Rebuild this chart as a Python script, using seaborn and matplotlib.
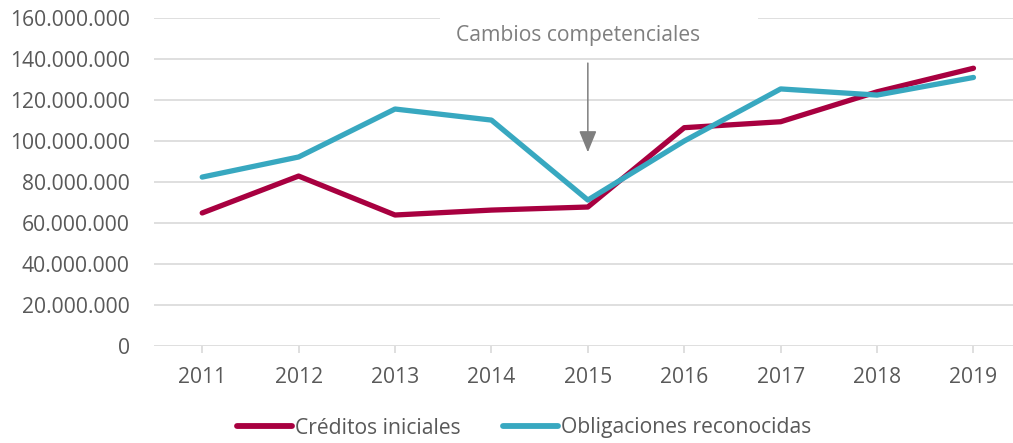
import matplotlib
matplotlib.use("Agg")
import matplotlib.pyplot as plt
import matplotlib.ticker as mticker
from matplotlib.lines import Line2D
from matplotlib.patches import Rectangle
import seaborn as sns
import pandas as pd

years = ["2011", "2012", "2013", "2014", "2015", "2016", "2017", "2018", "2019"]
creditos = [64.9e6, 82.9e6, 63.9e6, 66.3e6, 67.8e6, 106.5e6, 109.4e6, 124.0e6, 135.5e6]
obligaciones = [82.4e6, 92.2e6, 115.6e6, 110.2e6, 71.2e6, 100.0e6, 125.4e6, 122.4e6, 131.0e6]
series_names = ["Créditos iniciales", "Obligaciones reconocidas"]
colors = ["#A80040", "#38A8C0"]
y_ticks = [0, 20e6, 40e6, 60e6, 80e6, 100e6, 120e6, 140e6, 160e6]
annotation_text = "Cambios competenciales"

sns.set_theme(style="white")
plt.rcParams["font.family"] = ["Open Sans", "DejaVu Sans"]

df = pd.DataFrame({
    "year": years * 2,
    "value": creditos + obligaciones,
    "serie": [series_names[0]] * len(years) + [series_names[1]] * len(years),
})
df["x"] = list(range(len(years))) * 2

fig = plt.figure(figsize=(10.13, 4.43), dpi=100)
ax = fig.add_axes([154 / 1013, 1 - 346 / 443, 1 - 154 / 1013, (346 - 18) / 443])

grid_c = "#D9D9D9"
for t in y_ticks:
    ax.axhline(t, color=grid_c, lw=1.2, zorder=0)

sns.lineplot(data=df, x="x", y="value", hue="serie", palette=dict(zip(series_names, colors)),
             linewidth=3.8, ax=ax, legend=False, zorder=3, solid_capstyle="round")

ax.set_xlim(-0.5, 8.41)
ax.set_ylim(0, 160e6)
ax.set_xticks(range(len(years)))
ax.set_xticklabels(years)
ax.set_yticks(y_ticks)
ax.yaxis.set_major_formatter(mticker.FuncFormatter(lambda v, p: f"{int(v):,}".replace(",", ".")))
ax.set_xlabel("")
ax.set_ylabel("")
for s in ax.spines.values():
    s.set_visible(False)
fs = 15.2
ax.tick_params(axis="x", colors=grid_c, length=5, width=1.2, direction="out", pad=10,
               labelcolor="#595959", labelsize=fs, bottom=True)
ax.tick_params(axis="y", length=0, pad=17.5, labelcolor="#595959", labelsize=fs)

# white box behind the annotation text
ax.add_patch(Rectangle((2.47, 147e6), 3.30, 16e6, facecolor="white", edgecolor="none", zorder=1,
                       clip_on=False))
ax.text(3.90, 151.3e6, annotation_text, ha="center", va="center", color="#7F7F7F",
        fontsize=fs, zorder=2)
ax.annotate("", xy=(4.0, 94.5e6), xytext=(4.0, 138e6),
            arrowprops=dict(arrowstyle="-|>,head_length=1.1,head_width=0.45", color="#7F7F7F",
                            lw=1.1, shrinkA=0, shrinkB=0), zorder=2)

handles = [Line2D([0], [0], color=c, lw=4.2, solid_capstyle="round") for c in colors]
fig.legend(handles, series_names, loc="center", bbox_to_anchor=(524 / 1013, 1 - 428 / 443),
           ncol=2, frameon=False, fontsize=fs, handlelength=2.6, handletextpad=0.15,
           columnspacing=2.0, labelcolor="#595959")

fig.savefig("out.png", dpi=100)
